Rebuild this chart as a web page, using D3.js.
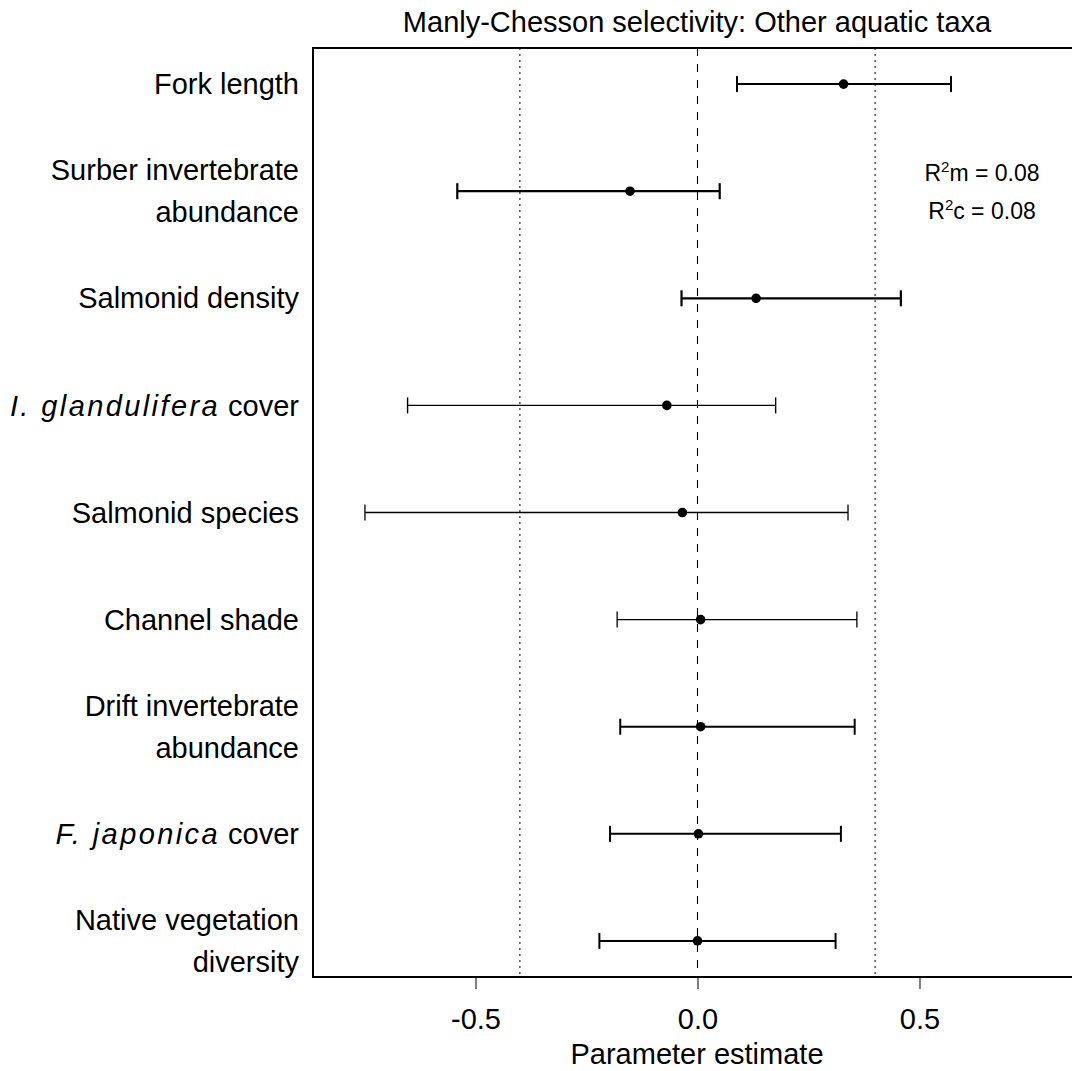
<!DOCTYPE html>
<html>
<head>
<meta charset="utf-8">
<script src="https://cdn.jsdelivr.net/npm/d3@7"></script>
<style>
  html, body { margin: 0; padding: 0; background: #fff; }
  svg { display: block; font-family: "Liberation Sans", Arial, sans-serif; }
</style>
</head>
<body>
<svg id="chart" width="1072" height="1071"></svg>
<script>
// Model terms (top to bottom)
const terms = [
  "Fork length",
  "Surber invertebrate abundance",
  "Salmonid density",
  "I. glandulifera cover",
  "Salmonid species",
  "Channel shade",
  "Drift invertebrate abundance",
  "F. japonica cover",
  "Native vegetation diversity"
];
// label lines per term: [italic part, plain part]
const labelLines = [
  [["", "Fork length"]],
  [["", "Surber invertebrate"], ["", "abundance"]],
  [["", "Salmonid density"]],
  [["I. glandulifera", " cover"]],
  [["", "Salmonid species"]],
  [["", "Channel shade"]],
  [["", "Drift invertebrate"], ["", "abundance"]],
  [["F. japonica", " cover"]],
  [["", "Native vegetation"], ["", "diversity"]]
];
const estimates = [0.329, -0.152, 0.132, -0.069, -0.034, 0.007, 0.007, 0.002, 0.000];
const lower     = [0.089, -0.541, -0.036, -0.653, -0.749, -0.181, -0.174, -0.197, -0.221];
const upper     = [0.571, 0.050, 0.458, 0.176, 0.339, 0.359, 0.354, 0.323, 0.311];
const xTicks = [-0.5, 0.0, 0.5];
const refLines = [-0.4, 0.4];
const r2m = "0.08", r2c = "0.08";

// stroke weight of each interval line
const barWidths = [2, 2.2, 2.2, 1.4, 1.3, 1.3, 2, 2, 2];

const svg = d3.select("#chart");
const plot = { left: 313, right: 1082, top: 48, bottom: 977 };

const x = d3.scaleLinear().domain([-0.866, 0.866]).range([plot.left, plot.right]);
const y = d3.scalePoint().domain(terms).range([plot.top, plot.bottom]).padding(0.337);

// reference lines
svg.selectAll("line.ref").data(refLines).join("line")
  .attr("class", "ref")
  .attr("x1", d => x(d)).attr("x2", d => x(d))
  .attr("y1", plot.top).attr("y2", plot.bottom)
  .attr("stroke", "#000").attr("stroke-width", 1)
  .attr("stroke-dasharray", "2,4");
svg.append("line")
  .attr("x1", x(0)).attr("x2", x(0))
  .attr("y1", plot.top).attr("y2", plot.bottom)
  .attr("stroke", "#000").attr("stroke-width", 1.1)
  .attr("stroke-dasharray", "8,8");

// intervals
const rows = terms.map((t, i) => ({ t, i, est: estimates[i], lo: lower[i], hi: upper[i] }));
const g = svg.append("g");
g.selectAll("line.ci").data(rows).join("line")
  .attr("x1", d => x(d.lo)).attr("x2", d => x(d.hi))
  .attr("y1", d => y(d.t)).attr("y2", d => y(d.t))
  .attr("stroke", "#000").attr("stroke-width", d => barWidths[d.i]);
g.selectAll("line.capl").data(rows).join("line")
  .attr("x1", d => x(d.lo)).attr("x2", d => x(d.lo))
  .attr("y1", d => y(d.t) - 8).attr("y2", d => y(d.t) + 8)
  .attr("stroke", "#000").attr("stroke-width", d => barWidths[d.i]);
g.selectAll("line.caph").data(rows).join("line")
  .attr("x1", d => x(d.hi)).attr("x2", d => x(d.hi))
  .attr("y1", d => y(d.t) - 8).attr("y2", d => y(d.t) + 8)
  .attr("stroke", "#000").attr("stroke-width", d => barWidths[d.i]);
g.selectAll("circle").data(rows).join("circle")
  .attr("cx", d => x(d.est)).attr("cy", d => y(d.t)).attr("r", 4.8)
  .attr("fill", "#000");

// plot frame
svg.append("rect")
  .attr("x", plot.left).attr("y", plot.top)
  .attr("width", plot.right - plot.left).attr("height", plot.bottom - plot.top)
  .attr("fill", "none").attr("stroke", "#000").attr("stroke-width", 2);

// x axis
const fmt = d => d < 0 ? "-" + d3.format(".1f")(-d) : d3.format(".1f")(d);
const xAxis = d3.axisBottom(x).tickValues(xTicks).tickFormat(fmt).tickSize(12).tickSizeOuter(0);
const ax = svg.append("g").attr("transform", `translate(0,${plot.bottom})`).call(xAxis);
ax.select(".domain").remove();
ax.selectAll(".tick line").attr("stroke", "#000").attr("stroke-width", 1);
ax.selectAll(".tick text")
  .attr("y", 52).attr("dy", 0)
  .attr("font-size", 29).attr("fill", "#000")
  .attr("font-family", "Liberation Sans, Arial, sans-serif");

// term labels
const lineGap = 42;
terms.forEach((t, i) => {
  const lines = labelLines[i];
  const y0 = y(t) - (lines.length - 1) * lineGap / 2;
  lines.forEach(([ital, plain], k) => {
    const txt = svg.append("text")
      .attr("x", 299).attr("y", y0 + k * lineGap)
      .attr("dy", "0.35em")
      .attr("text-anchor", "end")
      .attr("font-size", 29).attr("fill", "#000");
    if (ital) txt.append("tspan").attr("font-style", "italic").attr("letter-spacing", 2.4).text(ital);
    txt.append("tspan").text(plain);
  });
});

// title and axis title
svg.append("text")
  .attr("x", 697).attr("y", 32)
  .attr("text-anchor", "middle").attr("font-size", 29).attr("fill", "#000")
  .text("Manly-Chesson selectivity: Other aquatic taxa");
svg.append("text")
  .attr("x", 697).attr("y", 1064)
  .attr("text-anchor", "middle").attr("font-size", 29).attr("fill", "#000")
  .text("Parameter estimate");

// marginal / conditional R²
function r2Label(yPos, sub, val) {
  const t = svg.append("text").attr("x", 982).attr("y", yPos)
    .attr("text-anchor", "middle").attr("font-size", 23).attr("fill", "#000");
  t.append("tspan").text("R");
  t.append("tspan").attr("font-size", 15).attr("dy", -9).text("2");
  t.append("tspan").attr("dy", 9).text(sub + " = " + val);
}
r2Label(181, "m", r2m);
r2Label(219, "c", r2c);
</script>
</body>
</html>
